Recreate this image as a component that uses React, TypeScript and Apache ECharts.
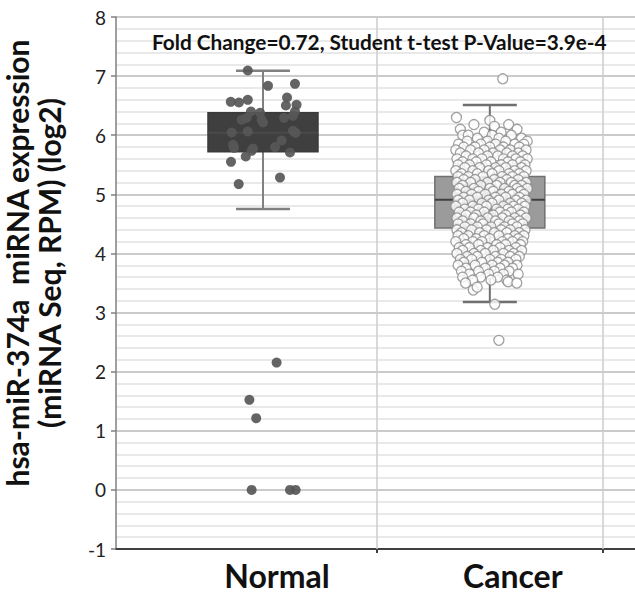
import React, { useEffect, useRef } from "react";
import * as echarts from "echarts";

const categories = ["Normal", "Cancer"];
const categoryX = [1, 2];
const yTicks = [-1, 0, 1, 2, 3, 4, 5, 6, 7, 8];
const annotation = "Fold Change=0.72, Student t-test P-Value=3.9e-4";
const yTitle = "hsa-miR-374a  miRNA expression\n(miRNA Seq, RPM) (log2)";

// [x, lowerWhisker, Q1, median, Q3, upperWhisker]
const boxStats = [
  [1, 4.75, 5.72, 6.04, 6.38, 7.09],
  [2, 3.18, 4.43, 4.91, 5.3, 6.51],
];

const normalPoints = [
  [0.933, 7.095], [1.022, 6.836], [1.141, 6.87], [0.858, 6.565], [0.894, 6.553],
  [0.933, 6.599], [1.106, 6.638], [1.148, 6.514], [1.101, 6.503], [0.947, 6.401],
  [0.987, 6.379], [1.141, 6.401], [1.132, 6.328], [1.093, 6.294], [0.906, 6.261],
  [0.928, 6.294], [0.994, 6.261], [1.0, 6.215], [0.862, 6.046], [0.933, 6.063],
  [1.132, 6.074], [1.144, 6.041], [1.082, 5.91], [0.868, 5.838], [0.872, 5.787],
  [0.956, 5.775], [0.95, 5.736], [1.053, 5.799], [1.119, 5.707], [0.924, 5.64],
  [0.859, 5.55], [0.893, 5.173], [1.075, 5.284],
  [1.06, 2.154], [0.94, 1.523], [0.97, 1.213], [0.95, 0.0], [1.119, 0.0], [1.144, 0.0],
];

// rows of the cancer cloud: [value, x positions...]
const cancerRows: number[][] = [
  [6.3, 1.853], [6.25, 2.0], [6.18, 1.93, 2.083], [6.15, 2.02], [6.1, 1.87, 2.12],
  [6.05, 1.975, 2.05], [6.0, 1.88, 1.905, 2.01, 2.095], [5.95, 1.945, 2.04, 2.14],
  [5.9, 1.9, 1.99, 2.07, 2.165], [5.85, 1.862, 1.96, 2.025, 2.11, 2.15],
  [5.8, 1.885, 1.935, 2.0, 2.06, 2.13], [5.75, 1.85, 1.915, 1.975, 2.045, 2.09, 2.16],
  [5.7, 1.87, 1.95, 2.015, 2.075, 2.125], [5.65, 1.895, 1.99, 2.035, 2.1, 2.145],
  [5.6, 1.855, 1.925, 1.965, 2.06, 2.115, 2.165], [5.55, 1.88, 1.94, 2.005, 2.08, 2.135],
  [5.5, 1.86, 1.91, 1.985, 2.05, 2.1, 2.155], [5.45, 1.89, 1.955, 2.025, 2.07, 2.14],
  [5.4, 1.85, 1.925, 1.995, 2.04, 2.11, 2.16], [5.35, 1.875, 1.945, 2.01, 2.085, 2.13],
  [5.3, 1.86, 1.905, 1.97, 2.055, 2.1, 2.15], [5.25, 1.885, 1.935, 2.02, 2.075, 2.125],
  [5.2, 1.855, 1.915, 1.99, 2.045, 2.095, 2.16], [5.15, 1.88, 1.96, 2.03, 2.11, 2.14],
  [5.1, 1.865, 1.93, 2.0, 2.065, 2.12, 2.165], [5.05, 1.895, 1.95, 2.015, 2.085, 2.135],
  [5.0, 1.855, 1.92, 1.98, 2.05, 2.1, 2.15], [4.95, 1.885, 1.945, 2.025, 2.07, 2.13],
  [4.9, 1.86, 1.91, 1.995, 2.04, 2.115, 2.16], [4.85, 1.88, 1.965, 2.01, 2.09, 2.14],
  [4.8, 1.85, 1.925, 1.985, 2.06, 2.105, 2.155], [4.75, 1.89, 1.95, 2.03, 2.08, 2.125],
  [4.7, 1.865, 1.915, 1.975, 2.045, 2.095, 2.15], [4.65, 1.895, 1.94, 2.015, 2.07, 2.135],
  [4.6, 1.855, 1.93, 1.99, 2.055, 2.11, 2.16], [4.55, 1.88, 1.96, 2.025, 2.085, 2.13],
  [4.5, 1.86, 1.915, 1.97, 2.04, 2.1, 2.145], [4.45, 1.89, 1.945, 2.005, 2.065, 2.12],
  [4.4, 1.855, 1.92, 1.985, 2.05, 2.09, 2.155], [4.35, 1.875, 1.955, 2.02, 2.075, 2.13],
  [4.3, 1.86, 1.905, 1.975, 2.04, 2.11, 2.15], [4.25, 1.885, 1.94, 2.0, 2.08, 2.125],
  [4.2, 1.85, 1.925, 1.965, 2.055, 2.1, 2.145], [4.15, 1.895, 1.95, 2.03, 2.07, 2.135],
  [4.1, 1.865, 1.91, 1.99, 2.045, 2.115], [4.05, 1.88, 1.96, 2.015, 2.085, 2.14],
  [4.0, 1.855, 1.93, 1.98, 2.06, 2.105], [3.95, 1.9, 1.945, 2.025, 2.09, 2.13],
  [3.9, 1.87, 1.92, 2.0, 2.05, 2.115], [3.85, 1.885, 1.965, 2.035, 2.08],
  [3.8, 1.86, 1.935, 2.01, 2.065, 2.12], [3.75, 1.895, 1.98, 2.045, 2.1],
  [3.7, 1.875, 1.95, 2.02, 2.085], [3.65, 1.91, 1.995, 2.06, 2.125],
  [3.6, 1.88, 1.96, 2.035], [3.55, 1.925, 2.005, 2.075],
];
const cancerOutliers = [
  [1.893, 3.5], [1.927, 3.38], [1.944, 3.43], [2.081, 3.52], [2.119, 3.5],
  [2.022, 3.14], [2.04, 2.53], [2.057, 6.954],
];

const cancerPoints: number[][] = [];
cancerRows.forEach((row) => {
  for (let i = 1; i < row.length; i++) cancerPoints.push([row[i], row[0]]);
});
cancerOutliers.forEach((p) => cancerPoints.push(p));

const boxStyle = [
  { fill: "#3f3f3f", stroke: "#3a3a3a", median: "#4a4a4a", whisker: "#808080" },
  { fill: "#9b9b9b", stroke: "#707070", median: "#404040", whisker: "#707070" },
];

export default function App() {
  const ref = useRef<HTMLDivElement>(null);
  useEffect(() => {
    if (!ref.current) return;
    const chart = echarts.init(ref.current, undefined, { renderer: "svg" });
    const font = "Lato, 'Open Sans', sans-serif";
    const labelStyle = { fontFamily: font, fontWeight: "bold", fontSize: 32, lineHeight: 32, color: "#111" };
    chart.setOption({
      animation: false,
      backgroundColor: "#ffffff",
      grid: { left: 116, right: 0, top: 17, bottom: 46, containLabel: false, outerBoundsMode: "none" },
      xAxis: {
        type: "value",
        min: 0.352,
        max: 2.64,
        axisLine: { show: true, onZero: false, lineStyle: { color: "#404040", width: 2 } },
        axisTick: { show: true, customValues: [1.5, 2.5], length: 4, lineStyle: { color: "#404040", width: 2 } },
        axisLabel: {
          show: true,
          customValues: categoryX,
          formatter: (v: number) => {
            const i = categoryX.indexOf(Math.round(v));
            return i < 0 ? "" : `{c${i}|${categories[i]}}`;
          },
          ...labelStyle,
          margin: 10,
          rich: {
            c0: { ...labelStyle, padding: [0, 0, 0, 28] },
            c1: { ...labelStyle, padding: [0, 0, 0, 46] },
          },
        },
        splitLine: { show: false },
      },
      yAxis: {
        type: "value",
        min: yTicks[0],
        max: yTicks[yTicks.length - 1],
        interval: 1,
        name: yTitle,
        nameLocation: "middle",
        nameGap: 51,
        nameRotate: 90,
        nameTextStyle: {
          fontFamily: font,
          fontWeight: "bold",
          fontSize: 30,
          color: "#111",
          lineHeight: 32,
          padding: [0, 0, 0, 40],
        },
        axisLine: { show: true, lineStyle: { color: "#808080", width: 1.5 } },
        axisTick: { show: true, length: 5, lineStyle: { color: "#808080", width: 1.5 } },
        axisLabel: { fontFamily: font, fontSize: 19, color: "#222", margin: 10 },
        splitLine: { show: true, lineStyle: { color: "#cbcbcb", width: 2 } },
        minorTick: { show: false, splitNumber: 5 },
        minorSplitLine: { show: true, lineStyle: { color: "#e2e2e2", width: 1.5 } },
      },
      graphic: [
        {
          type: "text",
          left: 152,
          top: 31,
          style: { text: annotation, font: `bold 20.8px ${font}`, fill: "#111" },
          z: 100,
        },
      ],
      series: [
        {
          type: "scatter",
          data: [],
          silent: true,
          markLine: {
            silent: true,
            symbol: "none",
            label: { show: false },
            lineStyle: { color: "#cccccc", width: 1.5, type: "solid" },
            data: [{ xAxis: 1.5 }, { xAxis: 2.5 }],
          },
          z: 1,
        },
        {
          type: "custom",
          data: boxStats,
          z: 2,
          renderItem: (params: any, api: any) => {
            const idx = params.dataIndex;
            const st = boxStyle[idx];
            const x = api.value(0);
            const pLo = api.coord([x, api.value(1)]);
            const pQ1 = api.coord([x, api.value(2)]);
            const pMed = api.coord([x, api.value(3)]);
            const pQ3 = api.coord([x, api.value(4)]);
            const pHi = api.coord([x, api.value(5)]);
            const cx = pMed[0];
            const half = 55;
            const cap = 27;
            return {
              type: "group",
              children: [
                { type: "line", shape: { x1: cx, y1: pHi[1], x2: cx, y2: pQ3[1] }, style: { stroke: st.whisker, lineWidth: 2 } },
                { type: "line", shape: { x1: cx, y1: pQ1[1], x2: cx, y2: pLo[1] }, style: { stroke: st.whisker, lineWidth: 2 } },
                { type: "line", shape: { x1: cx - cap, y1: pHi[1], x2: cx + cap, y2: pHi[1] }, style: { stroke: st.whisker, lineWidth: 2.5 } },
                { type: "line", shape: { x1: cx - cap, y1: pLo[1], x2: cx + cap, y2: pLo[1] }, style: { stroke: st.whisker, lineWidth: 2.5 } },
                { type: "rect", shape: { x: cx - half, y: pQ3[1], width: half * 2, height: pQ1[1] - pQ3[1] }, style: { fill: st.fill, stroke: st.stroke, lineWidth: 1.5 } },
                { type: "line", shape: { x1: cx - half, y1: pMed[1], x2: cx + half, y2: pMed[1] }, style: { stroke: st.median, lineWidth: 2 } },
              ],
            };
          },
        },
        {
          type: "scatter",
          data: normalPoints,
          symbolSize: 10,
          itemStyle: { color: "#575757", opacity: 0.92 },
          z: 3,
          silent: true,
        },
        {
          type: "scatter",
          data: cancerPoints,
          symbolSize: 10,
          itemStyle: { color: "#ffffff", borderColor: "#8a8a8a", borderWidth: 1.3 },
          z: 3,
          silent: true,
        },
      ],
    });
    return () => chart.dispose();
  }, []);
  return <div ref={ref} style={{ position: "fixed", left: 0, top: 0, width: 635, height: 595 }} />;
}
